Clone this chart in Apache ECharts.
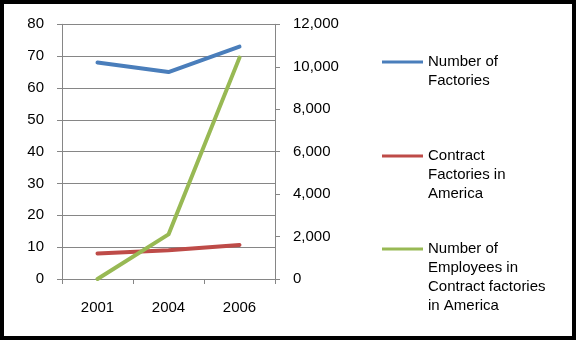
<!DOCTYPE html>
<html>
<head>
<meta charset="utf-8">
<script src="https://cdn.jsdelivr.net/npm/echarts@6/dist/echarts.min.js"></script>
<style>
html,body{margin:0;padding:0;background:#fff;}
#c{position:absolute;left:0;top:0;width:577px;height:340px;}
#frame{position:absolute;left:0;top:0;width:576px;height:340px;box-sizing:border-box;border:4px solid #000;pointer-events:none;}
</style>
</head>
<body>
<div id="c"></div>
<div id="frame"></div>
<script>
var categories = ['2001', '2004', '2006'];
var seriesNames = ['Number of Factories', 'Contract Factories in America', 'Number of Employees in Contract factories in America'];
var legendLabels = [
  '\nNumber of\nFactories',
  '\n\nContract\nFactories in\nAmerica',
  '\n\n\nNumber of\nEmployees in\nContract factories\nin America'
];
var factories = [68, 65, 73];
var contractFactories = [8, 9, 10.7];
var employees = [0, 2100, 10430];
var leftTicks = {min: 0, max: 80, interval: 10};
var rightTicks = {min: 0, max: 12000, interval: 2000};

var FONT = 'Liberation Sans, Arial, sans-serif';
var GREY = '#868686';
var colors = ['#4A7EBB', '#BE4B48', '#98B954'];

var chart = echarts.init(document.getElementById('c'), null, {renderer: 'canvas'});

function legendFor(i, top) {
  return {
    data: [seriesNames[i]],
    left: 382,
    top: top,
    padding: 0,
    icon: 'rect',
    itemWidth: 41,
    itemHeight: 3,
    selectedMode: false,
    formatter: function () { return legendLabels[i]; },
    textStyle: {fontFamily: FONT, fontSize: 15, color: '#000', lineHeight: 19}
  };
}

chart.setOption({
  animation: false,
  color: colors,
  textStyle: {fontFamily: FONT},
  grid: {left: 62, right: 302, top: 24.3, bottom: 61},
  legend: [legendFor(0, 33.5), legendFor(1, 108.5), legendFor(2, 182.5)],
  xAxis: {
    type: 'category',
    data: categories,
    boundaryGap: true,
    axisLine: {lineStyle: {color: GREY, width: 1}},
    axisTick: {show: true, length: 5, lineStyle: {color: GREY}},
    axisLabel: {color: '#000', fontSize: 15, fontFamily: FONT, margin: 21}
  },
  yAxis: [
    {
      type: 'value',
      min: leftTicks.min, max: leftTicks.max, interval: leftTicks.interval,
      axisLine: {show: true, lineStyle: {color: GREY, width: 1}},
      axisTick: {show: true, length: 5, lineStyle: {color: GREY}},
      splitLine: {show: true, lineStyle: {color: GREY, width: 1}},
      axisLabel: {color: '#000', fontSize: 15, fontFamily: FONT, margin: 18}
    },
    {
      type: 'value',
      position: 'right',
      min: rightTicks.min, max: rightTicks.max, interval: rightTicks.interval,
      axisLine: {show: true, lineStyle: {color: GREY, width: 1}},
      axisTick: {show: true, length: 5, lineStyle: {color: GREY}},
      splitLine: {show: false},
      axisLabel: {
        color: '#000', fontSize: 15, fontFamily: FONT, margin: 18,
        formatter: function (v) { return v.toLocaleString('en-US'); }
      }
    }
  ],
  series: [
    {
      name: seriesNames[0], type: 'line', data: factories, yAxisIndex: 0,
      symbol: 'none', lineStyle: {width: 4, color: colors[0], cap: 'round', join: 'round'},
      itemStyle: {color: colors[0]}
    },
    {
      name: seriesNames[1], type: 'line', data: contractFactories, yAxisIndex: 0,
      symbol: 'none', lineStyle: {width: 4, color: colors[1], cap: 'round', join: 'round'},
      itemStyle: {color: colors[1]}
    },
    {
      name: seriesNames[2], type: 'line', data: employees, yAxisIndex: 1,
      symbol: 'none', lineStyle: {width: 4, color: colors[2], cap: 'round', join: 'round'},
      itemStyle: {color: colors[2]}
    }
  ]
});
</script>
</body>
</html>
